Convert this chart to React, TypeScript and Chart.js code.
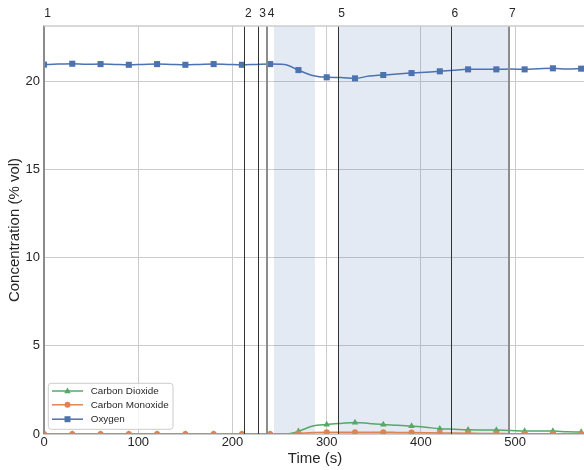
import React, { useEffect, useRef } from 'react';
import { Chart, registerables } from 'chart.js';

Chart.register(...registerables);

const times = [0, 15, 30, 45, 60, 75, 90, 105, 120, 135, 150, 165, 180, 195, 210, 225, 240, 255, 270, 285, 300, 315, 330, 345, 360, 375, 390, 405, 420, 435, 450, 465, 480, 495, 510, 525, 540, 555, 570];
const oxygen = [20.95, 20.98, 21.0, 20.97, 20.98, 20.96, 20.94, 20.96, 20.98, 20.96, 20.94, 20.96, 20.98, 20.96, 20.94, 20.96, 20.98, 20.96, 20.64, 20.33, 20.23, 20.22, 20.17, 20.3, 20.36, 20.42, 20.47, 20.52, 20.57, 20.63, 20.68, 20.69, 20.68, 20.7, 20.68, 20.72, 20.74, 20.7, 20.72];
const carbonDioxide = [0, 0, 0, 0, 0, 0, 0, 0, 0, 0, 0, 0, 0, 0, 0, 0, 0, 0, 0.15, 0.45, 0.54, 0.6, 0.65, 0.6, 0.54, 0.5, 0.45, 0.38, 0.3, 0.27, 0.24, 0.23, 0.22, 0.2, 0.17, 0.17, 0.17, 0.13, 0.11];
const carbonMonoxide = [0, 0, 0, 0, 0, 0, 0, 0, 0, 0, 0, 0, 0, 0, 0, 0, 0, 0, 0.03, 0.08, 0.1, 0.1, 0.1, 0.1, 0.1, 0.09, 0.08, 0.07, 0.06, 0.05, 0.04, 0.03, 0.03, 0.02, 0.02, 0.02, 0.02, 0.01, 0.01];

const eventTimes = [0, 213, 228, 237, 312, 432, 493];
const eventLabels = ['1', '2', '3', '4', '5', '6', '7'];
const eventMajor = [true, false, false, true, false, false, true];
const shadeStarts = [244, 312];
const shadeEnds = [287.5, 493];

const legendLabels = ['Carbon Dioxide', 'Carbon Monoxide', 'Oxygen'];
const xTitle = 'Time (s)';
const yTitle = 'Concentration (% vol)';

const BLUE = '#4c72b0';
const ORANGE = '#dd8452';
const GREEN = '#55a868';
const TEXT = '#262626';
const GRID = '#cccccc';
const FONT = "'Liberation Sans', Arial, sans-serif";

const markerStep = 30;

function drawMarker(ctx: CanvasRenderingContext2D, kind: string, x: number, y: number, color: string) {
  ctx.save();
  ctx.fillStyle = color;
  ctx.beginPath();
  if (kind === 'rect') {
    ctx.rect(x - 3, y - 3, 6, 6);
  } else if (kind === 'circle') {
    ctx.arc(x, y, 3, 0, Math.PI * 2);
  } else {
    ctx.moveTo(x, y - 3.6);
    ctx.lineTo(x + 3.3, y + 2.2);
    ctx.lineTo(x - 3.3, y + 2.2);
    ctx.closePath();
  }
  ctx.fill();
  ctx.restore();
}

const overlayPlugin = {
  id: 'overlay',
  beforeDatasetsDraw(chart: any) {
    const { ctx, chartArea } = chart;
    const xs = chart.scales.x;
    ctx.save();
    ctx.beginPath();
    ctx.rect(chartArea.left, chartArea.top, chartArea.right - chartArea.left, chartArea.bottom - chartArea.top);
    ctx.clip();
    ctx.fillStyle = 'rgba(76,114,176,0.15)';
    for (let i = 0; i < shadeStarts.length; i++) {
      const x1 = xs.getPixelForValue(shadeStarts[i]);
      const x2 = xs.getPixelForValue(shadeEnds[i]);
      ctx.fillRect(x1, chartArea.top, x2 - x1, chartArea.bottom - chartArea.top);
    }
    ctx.restore();
  },
  afterDatasetsDraw(chart: any) {
    const { ctx, chartArea } = chart;
    const xs = chart.scales.x;
    ctx.save();
    for (let i = 0; i < eventTimes.length; i++) {
      const raw = xs.getPixelForValue(eventTimes[i]);
      const x = eventMajor[i] ? Math.round(raw) : Math.floor(raw) + 0.5;
      ctx.beginPath();
      ctx.strokeStyle = eventMajor[i] ? '#8c8c8c' : '#333333';
      ctx.lineWidth = eventMajor[i] ? 2 : 1;
      ctx.moveTo(x, chartArea.top);
      ctx.lineTo(x, chartArea.bottom);
      ctx.stroke();
      ctx.fillStyle = TEXT;
      ctx.font = `12px ${FONT}`;
      ctx.textAlign = 'left';
      ctx.textBaseline = 'alphabetic';
      ctx.fillText(eventLabels[i], raw + 0.3, 17);
    }
    ctx.restore();
  },
  afterDraw(chart: any) {
    const { ctx, chartArea } = chart;
    ctx.save();
    // top spine
    ctx.strokeStyle = GRID;
    ctx.lineWidth = 1.5;
    ctx.beginPath();
    ctx.moveTo(chartArea.left, chartArea.top);
    ctx.lineTo(chartArea.right, chartArea.top);
    ctx.stroke();

    // axis titles
    ctx.fillStyle = TEXT;
    ctx.font = `15px ${FONT}`;
    ctx.textAlign = 'center';
    ctx.textBaseline = 'alphabetic';
    ctx.fillText(xTitle, (chartArea.left + chartArea.right) / 2 + 1, 462.5);
    ctx.save();
    ctx.translate(18.5, (chartArea.top + chartArea.bottom) / 2);
    ctx.rotate(-Math.PI / 2);
    ctx.fillText(yTitle, 0, 0);
    ctx.restore();

    // legend
    const bx = 48.3, by = 383.3, bw = 124.7, bh = 46, r = 3;
    ctx.beginPath();
    ctx.moveTo(bx + r, by);
    ctx.lineTo(bx + bw - r, by);
    ctx.quadraticCurveTo(bx + bw, by, bx + bw, by + r);
    ctx.lineTo(bx + bw, by + bh - r);
    ctx.quadraticCurveTo(bx + bw, by + bh, bx + bw - r, by + bh);
    ctx.lineTo(bx + r, by + bh);
    ctx.quadraticCurveTo(bx, by + bh, bx, by + bh - r);
    ctx.lineTo(bx, by + r);
    ctx.quadraticCurveTo(bx, by, bx + r, by);
    ctx.closePath();
    ctx.fillStyle = 'rgba(255,255,255,0.8)';
    ctx.fill();
    ctx.strokeStyle = GRID;
    ctx.lineWidth = 1;
    ctx.stroke();

    const colors = [GREEN, ORANGE, BLUE];
    const kinds = ['triangle', 'circle', 'rect'];
    const rows = [391, 404.8, 419.2];
    for (let i = 0; i < legendLabels.length; i++) {
      const y = rows[i];
      ctx.strokeStyle = colors[i];
      ctx.lineWidth = 1.5;
      ctx.beginPath();
      ctx.moveTo(52, y);
      ctx.lineTo(83, y);
      ctx.stroke();
      drawMarker(ctx, kinds[i], 67.5, y, colors[i]);
      ctx.fillStyle = TEXT;
      ctx.font = `9.9px ${FONT}`;
      ctx.textAlign = 'left';
      ctx.textBaseline = 'middle';
      ctx.fillText(legendLabels[i], 90.7, y + 0.5);
    }
    ctx.restore();
  },
};

function makeData(values: number[]) {
  return times.map((t, i) => ({ x: t, y: values[i] }));
}

export default function App() {
  const canvasRef = useRef<HTMLCanvasElement | null>(null);

  useEffect(() => {
    if (!canvasRef.current) return;
    const markerRadius = (r: number) => (c: any) => (times[c.dataIndex] % markerStep === 0 ? r : 0);
    const common = {
      borderWidth: 1.5,
      cubicInterpolationMode: 'monotone' as const,
      clip: 0,
      pointBorderWidth: 0,
      pointHoverRadius: 0,
    };
    const chart = new Chart(canvasRef.current, {
      type: 'line',
      data: {
        datasets: [
          {
            ...common,
            label: 'Oxygen',
            data: makeData(oxygen),
            borderColor: BLUE,
            backgroundColor: BLUE,
            pointStyle: 'rect',
            pointRadius: markerRadius(4.3),
          },
          {
            ...common,
            label: 'Carbon Monoxide',
            data: makeData(carbonMonoxide),
            borderColor: ORANGE,
            backgroundColor: ORANGE,
            pointStyle: 'circle',
            pointRadius: markerRadius(3),
          },
          {
            ...common,
            label: 'Carbon Dioxide',
            data: makeData(carbonDioxide),
            borderColor: GREEN,
            backgroundColor: GREEN,
            pointStyle: 'triangle',
            pointRadius: markerRadius(3.8),
          },
        ],
      },
      options: {
        animation: false,
        responsive: true,
        maintainAspectRatio: false,
        events: [],
        layout: { autoPadding: false, padding: { top: 26, right: 0, left: 0, bottom: 0 } },
        plugins: { legend: { display: false }, tooltip: { enabled: false } },
        scales: {
          x: {
            type: 'linear',
            min: 0,
            max: 573,
            grid: { color: GRID, lineWidth: 1, drawTicks: false },
            border: { color: GRID, width: 1.5 },
            ticks: {
              stepSize: 100,
              color: TEXT,
              font: { family: FONT, size: 13 },
              padding: 1,
              maxRotation: 0,
              autoSkip: false,
            },
            afterBuildTicks: (s: any) => {
              s.ticks = s.ticks.filter((t: any) => t.value % 100 === 0);
            },
            afterFit: (s: any) => {
              s.height = 36;
              s.paddingRight = 0;
              s.paddingLeft = 0;
            },
          },
          y: {
            type: 'linear',
            min: 0,
            max: 23.14,
            grid: { color: GRID, lineWidth: 1, drawTicks: false },
            border: { color: GRID, width: 1.5 },
            ticks: {
              stepSize: 5,
              color: TEXT,
              font: { family: FONT, size: 13 },
              padding: 4,
            },
            afterBuildTicks: (s: any) => {
              s.ticks = s.ticks.filter((t: any) => t.value % 5 === 0);
            },
            afterFit: (s: any) => {
              s.width = 44;
              s.paddingTop = 0;
              s.paddingBottom = 0;
            },
          },
        },
      },
      plugins: [overlayPlugin],
    });
    return () => chart.destroy();
  }, []);

  return (
    <div style={{ position: 'absolute', left: 0, top: 0, width: 584, height: 470 }}>
      <canvas ref={canvasRef} />
    </div>
  );
}
